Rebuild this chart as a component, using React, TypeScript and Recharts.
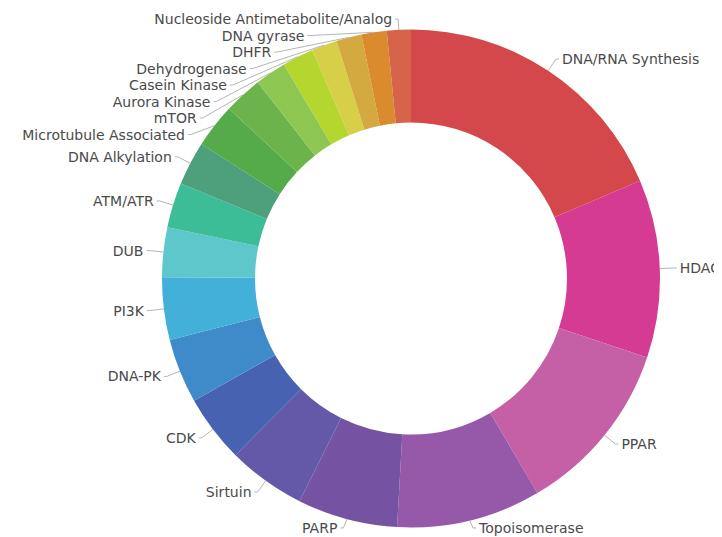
import { PieChart, Pie, Cell } from 'recharts';

// slices in clockwise order from 12 o'clock
const categories = [
  'DNA/RNA Synthesis',
  'HDAC',
  'PPAR',
  'Topoisomerase',
  'PARP',
  'Sirtuin',
  'CDK',
  'DNA-PK',
  'PI3K',
  'DUB',
  'ATM/ATR',
  'DNA Alkylation',
  'Microtubule Associated',
  'mTOR',
  'Aurora Kinase',
  'Casein Kinase',
  'Dehydrogenase',
  'DHFR',
  'DNA gyrase',
  'Nucleoside Antimetabolite/Analog',
];

const counts = [
  66.9, 41.6, 41.0, 33.7, 23.4, 18.2, 15.8, 15.1, 14.6, 11.6,
  10.5, 10.3, 10.3, 9.0, 7.3, 7.3, 6.0, 5.9, 5.9, 5.6,
];

const colors = [
  '#d4474a', // DNA/RNA Synthesis
  '#d63b94', // HDAC
  '#c560a6', // PPAR
  '#9658a8', // Topoisomerase
  '#7553a2', // PARP
  '#6459a9', // Sirtuin
  '#4762b0', // CDK
  '#3f8bc9', // DNA-PK
  '#43b0d9', // PI3K
  '#5ec7cb', // DUB
  '#3cbd98', // ATM/ATR
  '#4e9f7b', // DNA Alkylation
  '#55aa4a', // Microtubule Associated
  '#6db34c', // mTOR
  '#8dc752', // Aurora Kinase
  '#b4d62e', // Casein Kinase
  '#d7cf47', // Dehydrogenase
  '#d4a93f', // DHFR
  '#da8b2d', // DNA gyrase
  '#d5644b', // Nucleoside Antimetabolite/Analog
];

const data = categories.map((name, i) => ({ name, value: counts[i] }));

const W = 714;
const H = 529;
const CX = 403;
const CY = 270.5;
const R_OUT = 249;
const R_IN = 156;
const LEN1 = 14;
const LEN2 = 3;
const GAP = 3;
const LINE_H = 16.5;
const Y_MIN = 11;
const Y_MAX = 520;

type Slot = { x: number; y: number; dir: number };

// simple label placement: radial, then stack per side so texts don't overlap
function layoutLabels(): Slot[] {
  const total = counts.reduce((a, b) => a + b, 0);
  const r = R_OUT + LEN1;
  let acc = 0;
  const items = counts.map((v) => {
    const t = ((acc + v / 2) / total) * Math.PI * 2;
    acc += v;
    const dir = Math.sin(t) >= 0 ? 1 : -1;
    const x0 = CX + r * Math.sin(t);
    const y0 = CY - r * Math.cos(t);
    return { dir, x0, y0, y: y0 };
  });
  for (const dir of [1, -1]) {
    const side = items.filter((it) => it.dir === dir).sort((a, b) => a.y - b.y);
    let prev = -Infinity;
    side.forEach((it) => {
      it.y = Math.max(it.y, Y_MIN, prev + LINE_H);
      prev = it.y;
    });
    let next = Infinity;
    for (let k = side.length - 1; k >= 0; k--) {
      side[k].y = Math.min(side[k].y, Y_MAX, next - LINE_H);
      next = side[k].y;
    }
  }
  return items.map((it) => {
    if (Math.abs(it.y - it.y0) < 8) return { x: it.x0, y: it.y, dir: it.dir };
    const dy = it.y - CY;
    const dx = Math.sqrt(Math.max(r * r - dy * dy, 0));
    return { x: CX + it.dir * dx, y: it.y, dir: it.dir };
  });
}

const slots = layoutLabels();

const renderLabel = (props: any) => {
  const { cx, cy, midAngle, outerRadius, index, name } = props;
  const s = slots[index];
  const rad = (midAngle * Math.PI) / 180;
  const ax = cx + outerRadius * Math.cos(rad);
  const ay = cy - outerRadius * Math.sin(rad);
  const ex = s.x + s.dir * LEN2;
  return (
    <g key={`lbl-${index}`}>
      <polyline
        points={`${ax},${ay} ${s.x},${s.y} ${ex},${s.y}`}
        fill="none"
        stroke="#b5b5b5"
        strokeWidth={1}
      />
      <text
        x={ex + s.dir * GAP}
        y={s.y}
        textAnchor={s.dir > 0 ? 'start' : 'end'}
        dominantBaseline="central"
        fontSize={14}
        fontFamily="'DejaVu Sans', sans-serif"
        fill="#4a4a4a"
      >
        {name}
      </text>
    </g>
  );
};

export default function App() {
  return (
    <PieChart width={W} height={H} margin={{ top: 0, right: 0, bottom: 0, left: 0 }}>
      <Pie
        data={data}
        dataKey="value"
        nameKey="name"
        cx={CX}
        cy={CY}
        innerRadius={R_IN}
        outerRadius={R_OUT}
        startAngle={90}
        endAngle={-270}
        stroke="none"
        label={renderLabel}
        labelLine={false}
        isAnimationActive={false}
      >
        {data.map((entry, i) => (
          <Cell key={`cell-${i}`} fill={colors[i]} />
        ))}
      </Pie>
    </PieChart>
  );
}
